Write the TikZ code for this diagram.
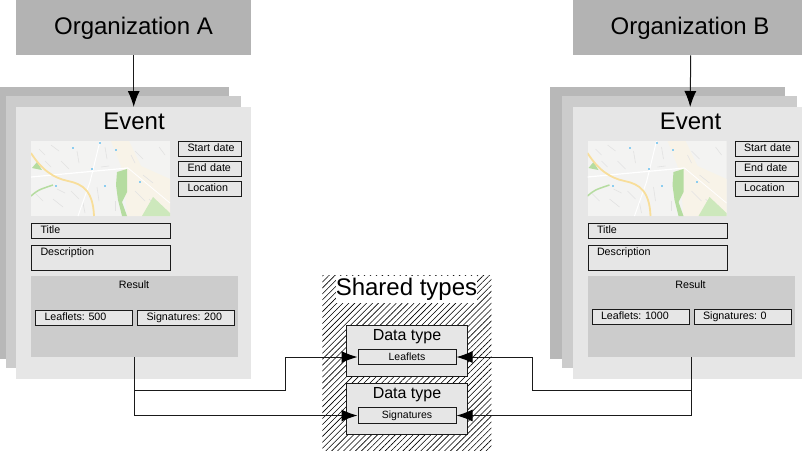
\documentclass[tikz,border=0pt]{standalone}
\usepackage{fontspec}
\setmainfont{Liberation Sans}
\usetikzlibrary{arrows.meta,patterns.meta}
\definecolor{orggray}{HTML}{B3B3B3}
\definecolor{backgray}{HTML}{B8B8B8}
\definecolor{midgray}{HTML}{CCCCCC}
\definecolor{frontgray}{HTML}{E6E6E6}
\definecolor{linegray}{HTML}{1A1A1A}
\definecolor{mapbase}{HTML}{F3F3F2}
\definecolor{mapbeige}{HTML}{F8F3E8}
\definecolor{mapgreen}{HTML}{B5DCA0}
\definecolor{mapgreenb}{HTML}{CDE8BC}
\definecolor{maproad}{HTML}{F8DE9A}
\definecolor{mapstreet}{HTML}{E2E2E2}
\definecolor{mapblue}{HTML}{8CCDF0}
\tikzset{
  sheetbox/.style 2 args={anchor=north west, inner sep=0pt, minimum width=#1, minimum height=#2},
  fieldbox/.style 2 args={anchor=north west, draw=linegray, line width=1pt, fill=frontgray, inner xsep=9pt,
    inner ysep=1.6pt, text width=#1, text height=8.5pt, text depth=#2, font=\fontsize{10.7}{12}\selectfont},
  typefield/.style={draw=linegray, line width=1pt, fill=frontgray, inner sep=0pt, minimum width=98pt,
    minimum height=15.5pt, font=\fontsize{10.5}{12}\selectfont},
  typebox/.style={draw=linegray, line width=1pt, fill=frontgray, inner sep=0pt, minimum width=121pt,
    minimum height=51pt},
  bigtext/.style={font=\fontsize{24}{26}\selectfont, inner sep=0pt},
  midtext/.style={font=\fontsize{16}{18}\selectfont, inner sep=0pt},
  smalltext/.style={font=\fontsize{10.7}{12}\selectfont, inner sep=0pt},
  flow/.style={draw=linegray, line width=1pt, -{Latex[length=16pt,width=12pt,black]}}
}
% map picture, local origin at its top left corner
\newcommand{\streetmap}{
  \begin{scope}
    \clip (0,0) rectangle (139,75);
    \fill[mapbase] (0,0) rectangle (139,75);
    \fill[mapbeige] (80,0) -- (98,0) -- (110,25) -- (139,38) -- (139,75) -- (96,75) -- (92,30) -- cycle;
    \foreach \ax/\ay/\bx/\by in {8/8/14/14,20/4/28/10,30/20/38/28,46/10/48/22,4/52/12/60,22/58/32/66,
      66/46/68/60,74/6/76/18,104/10/112/18,112/34/122/42,104/50/114/60,40/50/48/58,128/6/134/14,
      14/20/20/26,52/62/54/72,118/58/126/66,84/60/84/70,100/14/104/22,26/48/34/52,70/26/78/25} {
      \draw[mapstreet, line width=.6pt] (\ax,\ay) -- (\bx,\by);
    }
    \draw[white, line width=1.2pt] (0,36) -- (97,27);
    \draw[white, line width=1pt] (69,0) -- (59,41) -- (47,75);
    \draw[white, line width=.8pt] (97,27) -- (139,62);
    \fill[mapgreen] (86,31) -- (96,28) -- (96,51) -- (91,61) -- (96,75) -- (91,75) -- (87,59) -- (85,44) -- cycle;
    \fill[mapgreenb] (122,56) -- (139,72) -- (139,75) -- (111,75) -- cycle;
    \fill[mapgreen] (1,27) -- (6,21) -- (11,29) -- cycle;
    \draw[mapgreen, line width=1.5pt] (0,55) .. controls (7,49) .. (22,44);
    \draw[maproad, line width=1.8pt] (0,12) .. controls (10,28) and (22,37) .. (37,40) .. controls (52,43) and (62,50) .. (63,75);
    \foreach \ax/\ay in {68/1,41/6,60/27,73/44,24/44,84/8,108/40} {
      \fill[mapblue] (\ax,\ay) rectangle ++(2,1.5);
    }
  \end{scope}
}
% one stack of event sheets: name prefix, x shift, result row y, two result texts
\newcommand{\eventstack}[5]{
  \begin{scope}[xshift=#2pt]
    \node[sheetbox={235pt}{272pt}, fill=backgray] (#1back) at (-6.5,87) {};
    \node[sheetbox={235pt}{272pt}, fill=midgray] (#1mid) at (5.5,96) {};
    \node[sheetbox={235pt}{272pt}, fill=frontgray] (#1event) at (16,107) {};
    \node[bigtext] (#1eventname) at (134,121) {Event};
    \begin{scope}[shift={(31,141)}]
      \streetmap
    \end{scope}
    \node[fieldbox={45pt}{3.4pt}] (#1start) at (178,140.5) {\mbox{Start date}};
    \node[fieldbox={45pt}{3.4pt}] (#1end) at (178,160.5) {\mbox{End date}};
    \node[fieldbox={45pt}{3.4pt}] (#1location) at (178,180.5) {\mbox{Location}};
    \node[fieldbox={121pt}{3.4pt}] (#1title) at (31,222.5) {\mbox{Title}};
    \node[fieldbox={121pt}{14pt}] (#1description) at (31,244.5) {\mbox{Description}};
    \node[sheetbox={207pt}{81pt}, fill=midgray] (#1result) at (31,276) {};
    \node[smalltext] (#1resultname) at (134,285) {Result};
    \node[fieldbox={79pt}{3.4pt}] (#1leaflets) at (35,#3) {\mbox{#4}};
    \node[fieldbox={79pt}{3.4pt}] (#1signatures) at (137,#3) {\mbox{#5}};
  \end{scope}
}
\frenchspacing

\begin{document}
\begin{tikzpicture}[x=1pt,y=-1pt]
  \clip (0,0) rectangle (802,450);
  %organizations
  \node[sheetbox={235pt}{55pt}, fill=orggray] (orga) at (16,0) {};
  \node[bigtext] (organame) at (133.5,28.5) {Organization A};
  \node[sheetbox={235pt}{55pt}, fill=orggray] (orgb) at (573,0) {};
  \node[bigtext] (orgbname) at (690,28.5) {Organization B};
  %events
  \eventstack{a}{0}{310}{Leaflets: 500}{Signatures: 200}
  \eventstack{b}{556.5}{309}{Leaflets: 1000}{Signatures: 0}
  %shared types
  \node[sheetbox={169pt}{175pt}, pattern={Lines[angle=45,distance=4.2pt,line width=.6pt]}] (shared) at (322,275) {};
  \node[bigtext, fill=white, minimum height=27pt] (sharedname) at (406.5,289.5) {Shared types};
  \node[typebox] (typeone) at (407,350.5) {};
  \node[midtext] (typeonename) at (407,336.5) {Data type};
  \node[typefield] (leaflets) at (407,357) {Leaflets};
  \node[typebox] (typetwo) at (407,408.5) {};
  \node[midtext] (typetwoname) at (407,394.5) {Data type};
  \node[typefield] (signatures) at (407,415.5) {Signatures};
  %connectors
  \coordinate (abend) at (285,390);
  \coordinate (bbend) at (532,390);
  \draw[flow] (orga.south) -- (aevent.north);
  \draw[flow] (orgb.south) -- (bevent.north);
  \draw[flow] (aresult.south) |- (abend) |- (leaflets.west);
  \draw[flow] (aresult.south) |- (signatures.west);
  \draw[flow] (bresult.south) |- (bbend) |- (leaflets.east);
  \draw[flow] (bresult.south) |- (signatures.east);
\end{tikzpicture}
\end{document}
